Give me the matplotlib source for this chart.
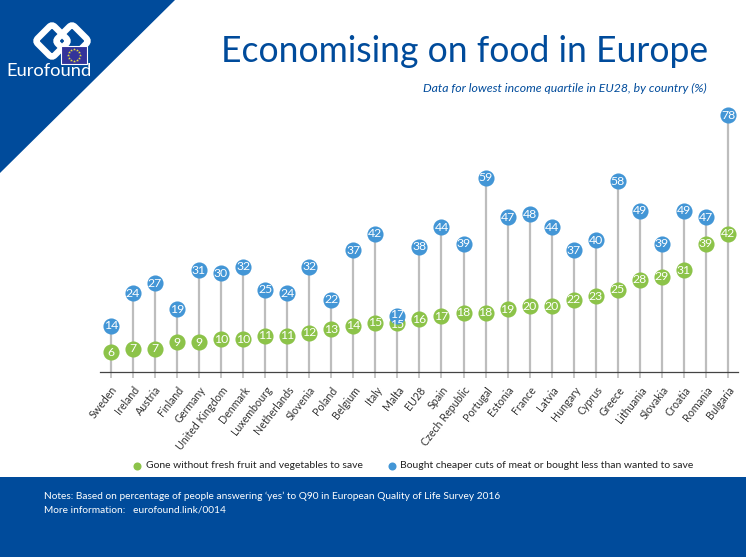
import numpy as np
import matplotlib
matplotlib.use("Agg")
import matplotlib.pyplot as plt
from matplotlib.patches import Polygon, Rectangle, FancyBboxPatch
from matplotlib.transforms import Affine2D

plt.rcParams['font.family'] = ['Lato', 'DejaVu Sans']

# Datos
countries = ["Sweden", "Ireland", "Austria", "Finland", "Germany", "United Kingdom", "Denmark",
             "Luxembourg", "Netherlands", "Slovenia", "Poland", "Belgium", "Italy", "Malta", "EU28",
             "Spain", "Czech Republic", "Portugal", "Estonia", "France", "Latvia", "Hungary",
             "Cyprus", "Greece", "Lithuania", "Slovakia", "Croatia", "Romania", "Bulgaria"]
gone_without = [6, 7, 7, 9, 9, 10, 10, 11, 11, 12, 13, 14, 15, 15, 16, 17, 18, 18, 19, 20, 20,
                22, 23, 25, 28, 29, 31, 39, 42]
cheaper_cuts = [14, 24, 27, 19, 31, 30, 32, 25, 24, 32, 22, 37, 42, 17, 38, 44, 39, 59, 47, 48,
                44, 37, 40, 58, 49, 39, 49, 47, 78]

title = "Economising on food in Europe"
subtitle = "Data for lowest income quartile in EU28, by country (%)"
legend_green = "Gone without fresh fruit and vegetables to save"
legend_blue = "Bought cheaper cuts of meat or bought less than wanted to save"
note_1 = "Notes: Based on percentage of people answering \u2018yes\u2019 to Q90 in European Quality of Life Survey 2016"
note_2 = "More information:   eurofound.link/0014"

navy = "#004b9b"
green = "#8cc349"
blue = "#4396d6"
W, H = 746, 557

fig = plt.figure(figsize=(W/100, H/100), dpi=100)

# Capa de fondo en pixeles
bg = fig.add_axes([0, 0, 1, 1])
bg.set_xlim(0, W)
bg.set_ylim(H, 0)
bg.axis("off")

bg.add_patch(Polygon([(0, 0), (175, 0), (0, 173)], color=navy, lw=0))
bg.add_patch(Rectangle((0, 477), W, 80, color=navy, lw=0))

# Logo
for cx, cy in [(52, 41), (72, 41)]:
    t = Affine2D().rotate_deg_around(cx, cy, 45) + bg.transData
    bg.add_patch(FancyBboxPatch((cx-12, cy-12), 24, 24, boxstyle="round,pad=0,rounding_size=4",
                                fc="none", ec="white", lw=4.6, transform=t))
bg.add_patch(Rectangle((61, 46), 26, 18, fc="#33339a", ec="white", lw=0.8, zorder=3))
ang = np.linspace(0, 2*np.pi, 12, endpoint=False)
bg.plot(74 + 6*np.cos(ang), 55 + 6*np.sin(ang), ls="", marker="*", ms=2.2, color="#e6dc3c", mew=0, zorder=4)
bg.text(6, 71, "Eurofound", color="white", fontsize=13.2, va="center", ha="left")

bg.text(708, 52, title, color=navy, fontsize=25.6, ha="right", va="center")
bg.text(707, 88, subtitle, color=navy, fontsize=8.8, style="italic", ha="right", va="center")

# Leyenda
bg.plot([137], [466], "o", ms=5.8, color=green, mew=0)
bg.text(146, 466, legend_green, fontsize=7.5, color="#222222", va="center")
bg.plot([392], [466], "o", ms=5.8, color=blue, mew=0)
bg.text(400, 466, legend_blue, fontsize=7.5, color="#222222", va="center")

bg.text(44, 496, note_1, color="white", fontsize=7.3, va="center")
bg.text(44, 510, note_2, color="white", fontsize=7.3, va="center")

# Grafico
left, right, top, bottom = 100, 738, 90, 372
ax = fig.add_axes([left/W, 1-bottom/H, (right-left)/W, (bottom-top)/H])
ax.patch.set_alpha(0)
x = np.arange(len(countries))
ax.set_xlim(-0.49, 28.45)
ax.set_ylim(0, (bottom-top)/3.29)

ax.vlines(x, 0, cheaper_cuts, color="#bdbdbd", lw=1.6, zorder=1)
ax.plot(x, gone_without, "o", ms=11.6, color=green, mew=0, zorder=2)
ax.plot(x, cheaper_cuts, "o", ms=11.6, color=blue, mew=0, zorder=3)
for i in x:
    # Malta: las dos etiquetas casi se tocan, igual que en el original
    dy = 0.55 if countries[i] == "Malta" else 0
    ax.text(i, gone_without[i] - dy, str(gone_without[i]), color="white", fontsize=8.8,
            ha="center", va="center", zorder=4)
    ax.text(i, cheaper_cuts[i] + dy, str(cheaper_cuts[i]), color="white", fontsize=8.8,
            ha="center", va="center", zorder=5)

for s in ["top", "right", "left"]:
    ax.spines[s].set_visible(False)
ax.spines["bottom"].set_color("#444444")
ax.spines["bottom"].set_linewidth(0.9)
ax.set_yticks([])
ax.set_xticks(x)
ax.set_xticklabels(countries, rotation=52, ha="right", va="top", rotation_mode="anchor",
                   fontsize=7.7, color="#333333")
ax.tick_params(axis="x", length=4, width=1.2, color="#bdbdbd", pad=5)

fig.savefig("out.png", dpi=100)
